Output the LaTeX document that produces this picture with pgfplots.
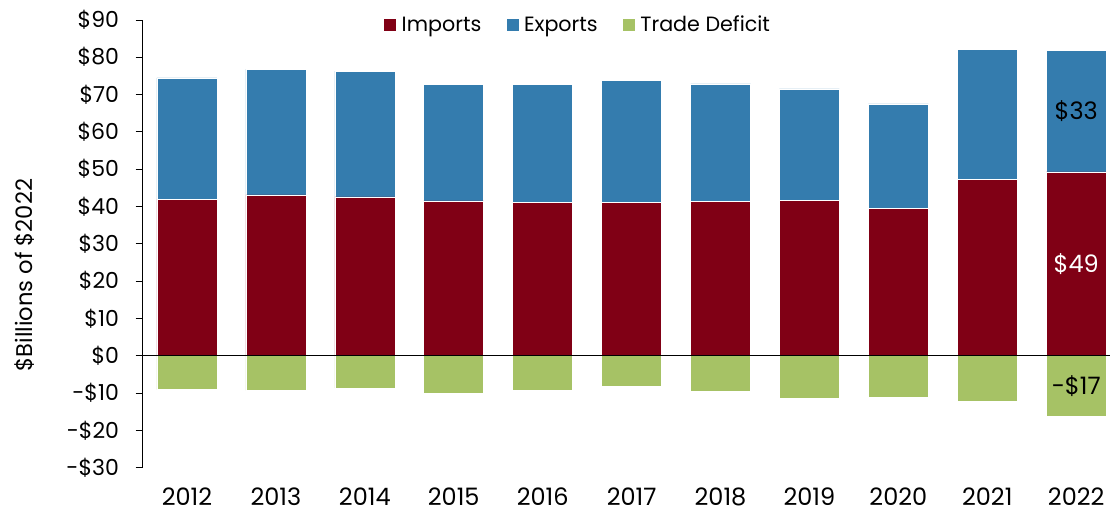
\documentclass[border=0pt]{standalone}
\usepackage{pgfplots}
\pgfplotsset{compat=1.18}
\usepackage{fontspec}
\setmainfont{Poppins}
\definecolor{impc}{RGB}{128,0,21}
\definecolor{expc}{RGB}{52,124,174}
\definecolor{defc}{RGB}{166,194,101}
\begin{document}
\begin{tikzpicture}
\useasboundingbox (0,0) rectangle (832.5pt,384.75pt);
\pgfplotsset{
  common/.style={
    scale only axis, width=725.5pt, height=335.7pt,
    at={(107pt,34.05pt)}, anchor=south west,
    xmin=-0.498, xmax=10.38, ymin=-30, ymax=90,
    bar width=45pt,
  }
}
\begin{axis}[common,
  ybar stacked,
  axis y line*=left, axis x line*=bottom,
  x axis line style={draw=none},
  xtick={0,...,10},
  xticklabels={2012,2013,2014,2015,2016,2017,2018,2019,2020,2021,2022},
  xtick style={draw=none},
  ytick={-30,-20,...,90},
  yticklabels={-\$30,-\$20,-\$10,\$0,\$10,\$20,\$30,\$40,\$50,\$60,\$70,\$80,\$90},
  tick align=outside, major tick length=5.2pt,
  ytick style={black, line width=0.6pt},
  y axis line style={black, line width=0.6pt},
  yticklabel style={font=\fontsize{16.5}{19}\selectfont, xshift=-9pt},
  xticklabel style={font=\fontsize{18}{21}\selectfont, inner sep=0pt, yshift=-9.5pt},
  ylabel={\$Billions of \$2022},
  ylabel style={at={(axis description cs:-0.1217,0.43)}, anchor=center, font=\fontsize{17}{20}\selectfont},
  legend style={at={(0.2455,1.021)}, anchor=north west, draw=none, fill=none,
    font=\fontsize{15.5}{18}\selectfont, legend columns=-1,
    /tikz/every odd column/.append style={column sep=2pt},
    /tikz/every even column/.append style={column sep=17pt}},
  legend image code/.code={\path[#1,draw=none] (0pt,-4.5pt) rectangle (9pt,4.5pt);},
]
\addplot[fill=impc, draw=white, line width=0.4pt] coordinates {
 (0,42.0) (1,43.1) (2,42.6) (3,41.5) (4,41.1) (5,41.2) (6,41.3) (7,41.7) (8,39.5) (9,47.3) (10,49.3)};
\addlegendentry{Imports}
\addplot[fill=expc, draw=white, line width=0.4pt] coordinates {
 (0,32.5) (1,33.7) (2,33.7) (3,31.2) (4,31.6) (5,32.7) (6,31.6) (7,29.8) (8,28.0) (9,34.9) (10,32.5)};
\addlegendentry{Exports}
\addlegendimage{fill=defc}
\addlegendentry{Trade Deficit}
\end{axis}
\begin{axis}[common,
  ybar, bar shift=0pt,
  hide axis,
]
\addplot[fill=defc, draw=white, line width=0.4pt] coordinates {
 (0,-9.1) (1,-9.3) (2,-8.6) (3,-10.1) (4,-9.4) (5,-8.1) (6,-9.5) (7,-11.5) (8,-11.2) (9,-12.1) (10,-16.2)};
\draw[black, line width=0.8pt] (rel axis cs:0,0.25) -- (rel axis cs:1,0.25);
\node[black, font=\fontsize{18}{21}\selectfont] at (axis cs:10,-8.1) {-\$17};
\node[white, font=\fontsize{18}{21}\selectfont] at (axis cs:10,24.65) {\$49};
\node[black, font=\fontsize{18}{21}\selectfont] at (axis cs:10,65.55) {\$33};
\end{axis}
\end{tikzpicture}
\end{document}
